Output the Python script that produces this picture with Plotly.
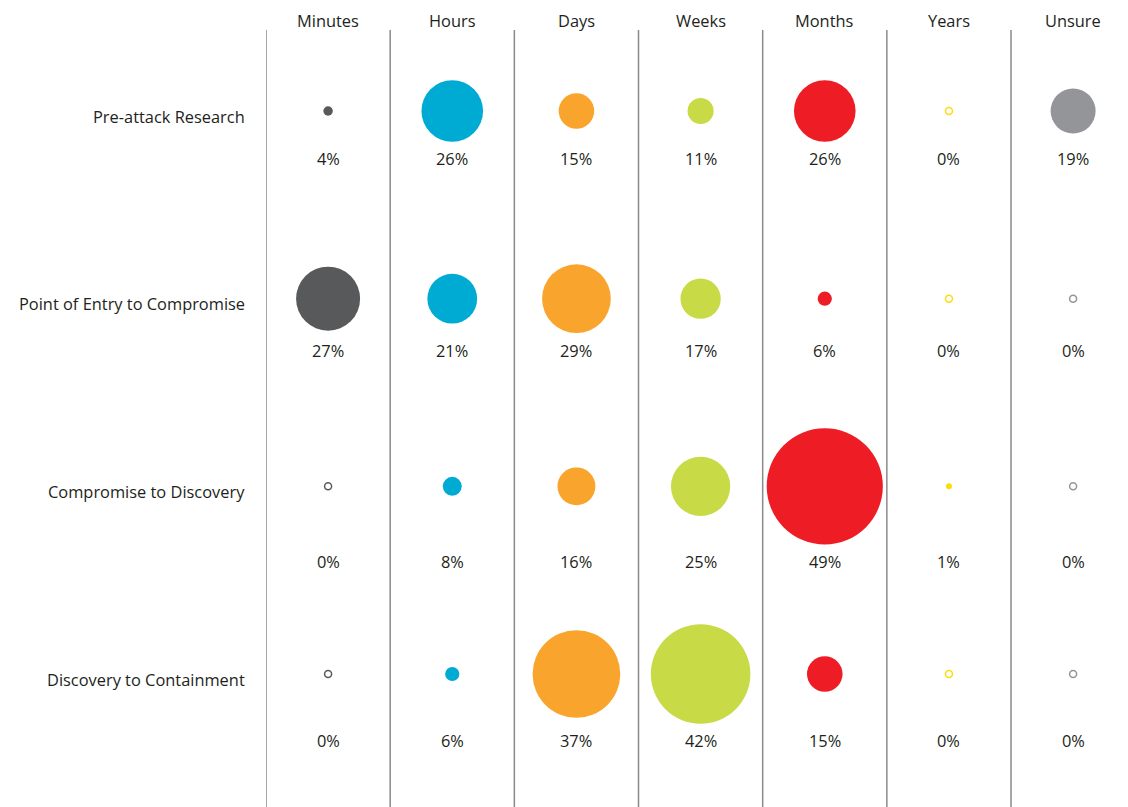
import plotly.graph_objects as go

columns = ["Minutes", "Hours", "Days", "Weeks", "Months", "Years", "Unsure"]
phases = ["Pre-attack Research", "Point of Entry to Compromise",
          "Compromise to Discovery", "Discovery to Containment"]
values = [
    [4, 26, 15, 11, 26, 0, 19],
    [27, 21, 29, 17, 6, 0, 0],
    [0, 8, 16, 25, 49, 1, 0],
    [0, 6, 37, 42, 15, 0, 0],
]
colors = ["#58595b", "#00abd3", "#f9a52d", "#c8da46", "#ee1d25", "#fcdc0c", "#939598"]

PX_PER_PCT = 2.37   # bubble diameter in px per percent
FONT = "'Open Sans', sans-serif"
TXT = "#231f20"
FS = 16.4

fig = go.Figure()
annotations = []
for r, (phase, row) in enumerate(zip(phases, values)):
    for c, (col, v) in enumerate(zip(columns, row)):
        if v == 0:
            marker = dict(symbol="circle-open", size=7, color=colors[c],
                          line=dict(width=1.5, color=colors[c]))
        else:
            marker = dict(symbol="circle", size=max(v * PX_PER_PCT, 6),
                          color=colors[c], line=dict(width=0))
        fig.add_trace(go.Scatter(x=[c], y=[r], mode="markers", marker=marker,
                                 showlegend=False, hoverinfo="text",
                                 text=[f"{phase} / {col}: {v}%"]))
    max_r = max(row) * PX_PER_PCT / 2
    for c, v in enumerate(row):
        annotations.append(dict(x=c, y=r, xref="x", yref="y", text=f"{v}%",
                                showarrow=False, yshift=-(max_r + 17),
                                font=dict(size=FS, color=TXT, family=FONT)))
    annotations.append(dict(x=-0.5, y=r, xref="x", yref="y", text=phase,
                            showarrow=False, xanchor="right", xshift=-19, yshift=-5,
                            font=dict(size=FS, color=TXT, family=FONT)))

for c, col in enumerate(columns):
    annotations.append(dict(x=c, y=1, xref="x", yref="paper", text=col,
                            showarrow=False, yanchor="middle", yshift=10,
                            font=dict(size=FS, color=TXT, family=FONT)))

shapes = []
for c in range(len(columns)):
    shapes.append(dict(type="line", xref="x", yref="paper", x0=c - 0.5, x1=c - 0.5,
                       y0=0, y1=1, line=dict(color="#8a8a8a", width=1.5)))

W, H = 1120, 799
L, T = 258, 22
spacing_x = 124.17
spacing_y = 187.67
plot_w = W - L
plot_h = H - T

fig.update_layout(
    width=W, height=H,
    margin=dict(l=L, r=0, t=T, b=0),
    paper_bgcolor="white", plot_bgcolor="white",
    annotations=annotations, shapes=shapes,
    xaxis=dict(range=[-0.5, -0.5 + plot_w / spacing_x], visible=False, fixedrange=True),
    yaxis=dict(range=[(plot_h - 81) / spacing_y, -81 / spacing_y],
               visible=False, fixedrange=True),
)

fig.write_html("out.html")
